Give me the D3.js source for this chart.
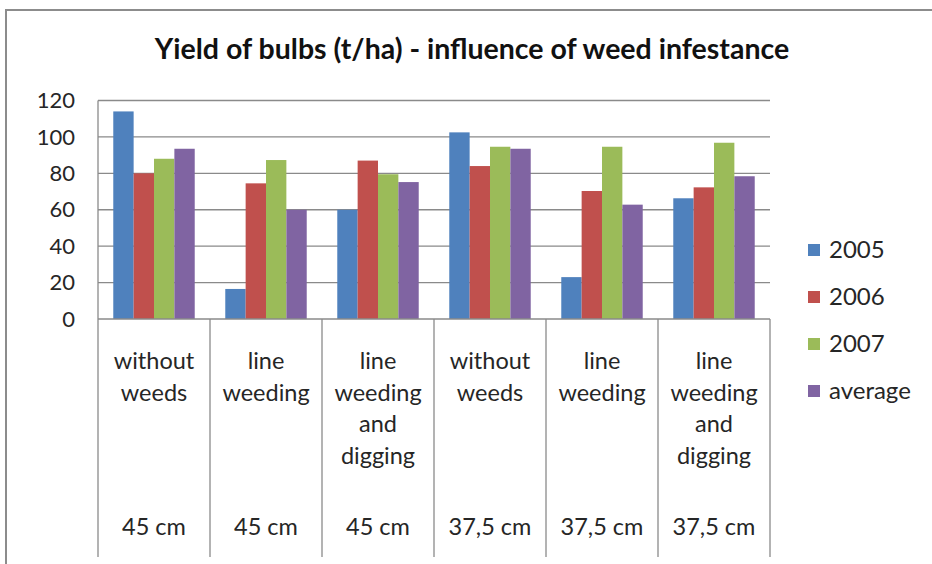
<!DOCTYPE html>
<html><head><meta charset="utf-8">
<script src="https://cdnjs.cloudflare.com/ajax/libs/d3/7.8.5/d3.min.js"></script>
<style>body{margin:0;background:#fff}svg{display:block}text{font-family:Lato,"Open Sans",sans-serif;fill:#262626}</style>
</head><body><div id="chart"></div>
<script>
const categories = [
  ["without","weeds"],
  ["line","weeding"],
  ["line","weeding","and","digging"],
  ["without","weeds"],
  ["line","weeding"],
  ["line","weeding","and","digging"]
];
const spacings = ["45 cm","45 cm","45 cm","37,5 cm","37,5 cm","37,5 cm"];
const seriesNames = ["2005","2006","2007","average"];
const v2005 = [114, 16.5, 60, 102.5, 23, 66.3];
const v2006 = [80, 74.5, 87, 84, 70.3, 72.3];
const v2007 = [88, 87.3, 79.5, 94.6, 94.6, 96.8];
const vAvg  = [93.5, 60, 75.2, 93.5, 62.8, 78.4];
const seriesValues = [v2005, v2006, v2007, vAvg];
const yTicks = [0,20,40,60,80,100,120];
const colors = ["#4F81BD","#C0504D","#9BBB59","#8064A2"];
const title = "Yield of bulbs (t/ha) - influence of weed infestance";

(function(){
const W = 932, H = 564;
const svg = d3.select("#chart").append("svg").attr("width", W).attr("height", H);

svg.append("path").attr("d", "M6,564 V10 H932").attr("fill","none")
  .attr("stroke","#8c8c8c").attr("stroke-width",2);

const pL = 98, pR = 770, pT = 100.5, pB = 319;
const x = d3.scaleBand().domain(d3.range(categories.length)).range([pL, pR]).padding(0);
const y = d3.scaleLinear().domain([0,120]).range([pB, pT]);
const gap = 1.5;
const inner = d3.scaleBand().domain(d3.range(seriesNames.length))
  .range([0, x.bandwidth()]).paddingInner(0).paddingOuter(gap/2);

svg.append("g").selectAll("line").data(yTicks.filter(t=>t>0)).join("line")
  .attr("x1", pL).attr("x2", pR)
  .attr("y1", d=>y(d)).attr("y2", d=>y(d))
  .attr("stroke","#8a8a8a").attr("stroke-width",1.3);

svg.append("g").selectAll("text").data(yTicks).join("text")
  .attr("x", 75).attr("y", d=>y(d)).attr("dy","0.35em")
  .attr("text-anchor","end").attr("font-size",22).text(d=>d);

seriesValues.forEach((vals, si) => {
  svg.append("g").selectAll("rect").data(vals).join("rect")
    .attr("x", (d,i)=> x(i) + inner(si))
    .attr("width", inner.bandwidth())
    .attr("y", d=>y(d)).attr("height", d=>y(0)-y(d))
    .attr("fill", colors[si]);
});

svg.append("line").attr("x1", pL).attr("x2", pR).attr("y1", pB).attr("y2", pB)
  .attr("stroke","#8a8a8a").attr("stroke-width",1.3);
const dividers = d3.range(categories.length+1).map(i => i < categories.length ? x(i) : pR);
svg.append("g").selectAll("line").data(dividers).join("line")
  .attr("x1", d=>d).attr("x2", d=>d).attr("y1", (d,i)=> i===0 ? pT : pB).attr("y2", 557)
  .attr("stroke","#8a8a8a").attr("stroke-width",1.3);

const lab = svg.append("g");
categories.forEach((lines, i) => {
  const cx = x(i) + x.bandwidth()/2;
  lines.forEach((t, li) => {
    lab.append("text").attr("x", cx).attr("y", 361 + li*31.5).attr("dy","0.35em")
      .attr("text-anchor","middle").attr("font-size",23.5).text(t);
  });
  lab.append("text").attr("x", cx).attr("y", 527).attr("dy","0.35em")
    .attr("text-anchor","middle").attr("font-size",23.5).text(spacings[i]);
});

svg.append("text").attr("x", 472).attr("y", 59).attr("text-anchor","middle")
  .attr("font-size",28.5).attr("font-weight","bold").style("fill","#111").text(title);

const lg = svg.append("g");
seriesNames.forEach((n, i) => {
  const ly = 250 + i*47;
  lg.append("rect").attr("x", 808).attr("y", ly-6).attr("width",12).attr("height",12).attr("fill", colors[i]);
  lg.append("text").attr("x", 829).attr("y", ly).attr("dy","0.35em").attr("font-size",24).text(n);
});
})();
</script></body></html>
